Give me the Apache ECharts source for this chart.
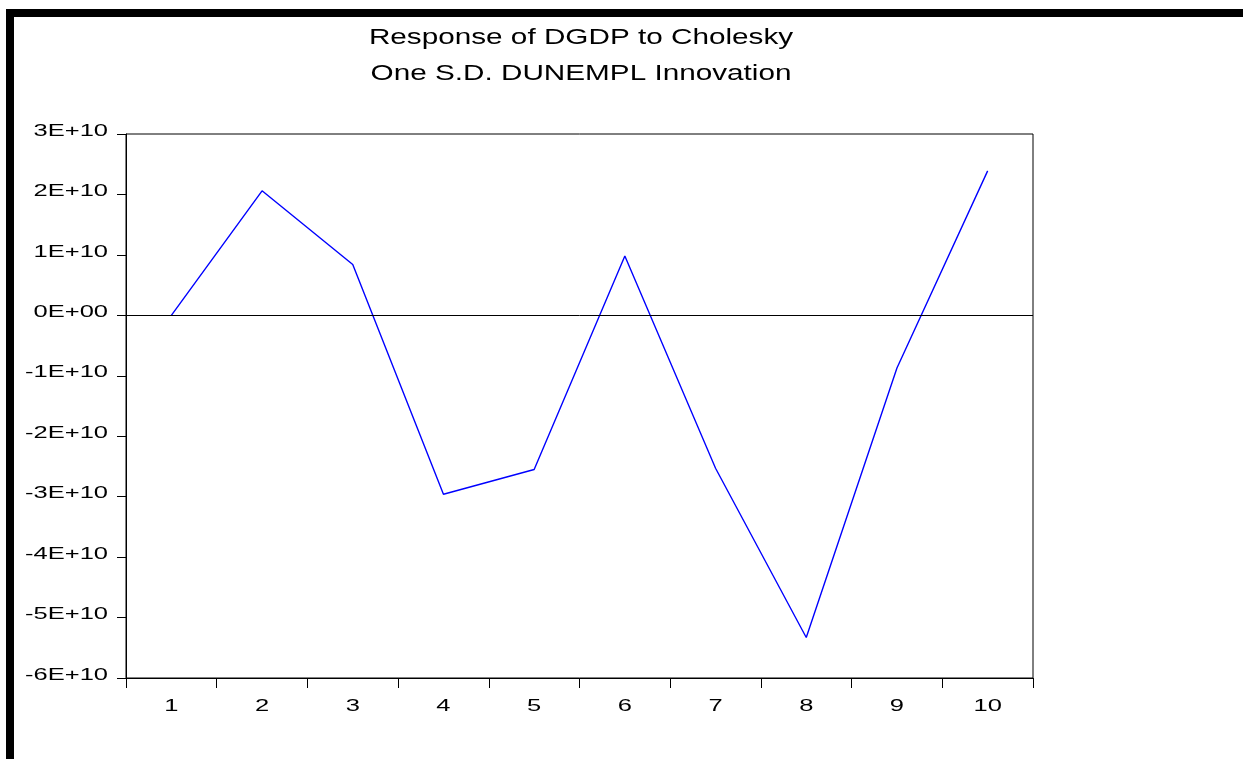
<!DOCTYPE html>
<html>
<head>
<meta charset="utf-8">
<script src="https://cdn.jsdelivr.net/npm/echarts@6/dist/echarts.min.js"></script>
<style>
html,body{margin:0;padding:0;background:#fff;}
#chart{width:1243px;height:759px;}
</style>
</head>
<body>
<div id="chart"></div>
<script>
var titleLines = ['Response of DGDP to Cholesky', 'One S.D. DUNEMPL Innovation'];
var periods = ['1','2','3','4','5','6','7','8','9','10'];
var responseValues = [0, 2.06e10, 0.84e10, -2.96e10, -2.55e10, 0.98e10, -2.53e10, -5.33e10, -0.87e10, 2.39e10];
var yTickValues = [3e10, 2e10, 1e10, 0, -1e10, -2e10, -3e10, -4e10, -5e10, -6e10];
var yTickLabels = ['3E+10','2E+10','1E+10','0E+00','-1E+10','-2E+10','-3E+10','-4E+10','-5E+10','-6E+10'];

var FONT = '"Liberation Sans", Arial, sans-serif';
var chart = echarts.init(document.getElementById('chart'), null, {renderer: 'canvas'});

var baseOption = {
  backgroundColor: '#ffffff',
  animation: false,
  grid: {left: 126, top: 134, right: 210, bottom: 81, show: true, borderColor: '#000', borderWidth: 1, backgroundColor: 'transparent'},
  xAxis: {
    type: 'category', data: periods, boundaryGap: true,
    axisLine: {onZero: false, lineStyle: {color: '#000', width: 1}},
    axisTick: {show: true, inside: false, length: 10, lineStyle: {color: '#000'}},
    axisLabel: {show: false},
    splitLine: {show: false}
  },
  yAxis: {
    type: 'value', min: -6e10, max: 3e10, interval: 1e10,
    axisLine: {show: true, onZero: false, lineStyle: {color: '#000', width: 1}},
    axisTick: {show: true, inside: false, length: 9, lineStyle: {color: '#000'}},
    axisLabel: {show: false},
    splitLine: {show: false}
  },
  series: [{
    type: 'line', data: responseValues, symbol: 'none',
    lineStyle: {color: '#0000ff', width: 1.4},
    markLine: {
      silent: true, symbol: 'none', label: {show: false},
      lineStyle: {color: '#000', width: 1, type: 'solid'},
      data: [{yAxis: 0}]
    },
    z: 3
  }]
};
chart.setOption(baseOption);

var graphics = [
  {type: 'rect', shape: {x: 6, y: 9, width: 1237, height: 8}, style: {fill: '#000'}},
  {type: 'rect', shape: {x: 6, y: 9, width: 8, height: 750}, style: {fill: '#000'}}
];
var titleCenter = 581;
var titleY = [38, 74];
titleLines.forEach(function (t, i) {
  graphics.push({type: 'text', x: titleCenter, y: titleY[i], scaleX: 1.35, scaleY: 1,
    style: {text: t, font: '22px ' + FONT, fill: '#000', textAlign: 'center', textVerticalAlign: 'middle'}});
});
yTickValues.forEach(function (v, i) {
  var py = chart.convertToPixel({yAxisIndex: 0}, v);
  graphics.push({type: 'text', x: 108, y: py - 3, scaleX: 1.5, scaleY: 1,
    style: {text: yTickLabels[i], font: '17px ' + FONT, fill: '#000', textAlign: 'right', textVerticalAlign: 'middle'}});
});
periods.forEach(function (p, i) {
  var px = chart.convertToPixel({xAxisIndex: 0}, p);
  graphics.push({type: 'text', x: px, y: 706, scaleX: 1.5, scaleY: 1,
    style: {text: p, font: '17px ' + FONT, fill: '#000', textAlign: 'center', textVerticalAlign: 'middle'}});
});
chart.setOption({graphic: graphics});
</script>
</body>
</html>
